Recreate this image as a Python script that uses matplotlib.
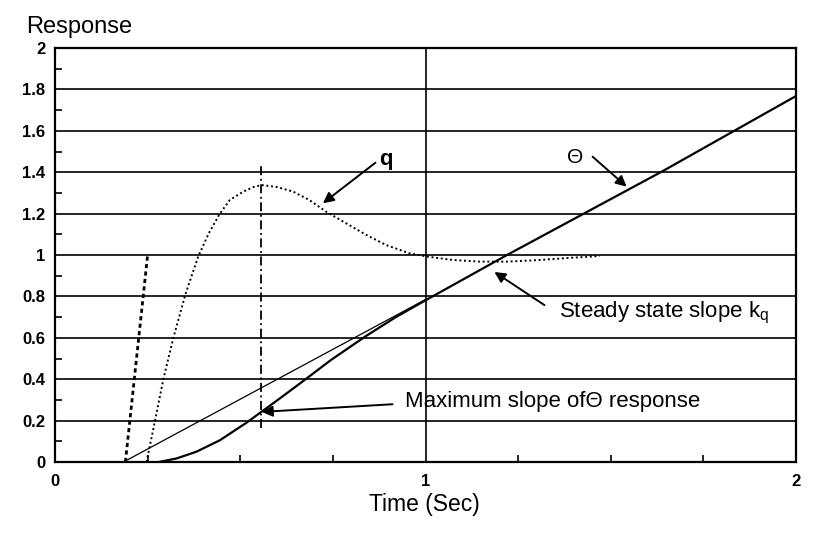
import matplotlib
matplotlib.use("Agg")
import matplotlib.pyplot as plt
from matplotlib.ticker import FixedLocator

plt.rcParams['font.family'] = ['Liberation Sans', 'DejaVu Sans']
plt.rcParams['mathtext.fontset'] = 'custom'
plt.rcParams['mathtext.rm'] = 'Liberation Sans'

# ---- data ----
step_t = [0.19, 0.25]
step_v = [0.0, 1.0]

q_t = [0.247, 0.27, 0.292, 0.319, 0.352, 0.386, 0.415, 0.445, 0.472, 0.508, 0.535, 0.557,
       0.60, 0.643, 0.687, 0.732, 0.786, 0.840, 0.894, 0.957, 1.006, 1.074, 1.146,
       1.22, 1.30, 1.38, 1.47]
q_v = [0.0, 0.20, 0.396, 0.597, 0.81, 0.99, 1.105, 1.20, 1.266, 1.306, 1.328, 1.338,
       1.328, 1.306, 1.265, 1.209, 1.153, 1.097, 1.048, 1.008, 0.992, 0.976, 0.968,
       0.968, 0.975, 0.985, 0.995]

theta_t = [0.28, 0.328, 0.382, 0.445, 0.517, 0.553, 0.606, 0.669, 0.745, 0.838, 0.920,
           1.0, 1.22, 1.64, 2.0]
theta_v = [0.0, 0.017, 0.05, 0.105, 0.19, 0.237, 0.306, 0.39, 0.493, 0.607, 0.70,
           0.781, 1.0, 1.405, 1.768]

tangent_t = [0.185, 1.0]
tangent_v = [0.0, 0.785]

peak_t = [0.557, 0.557]
peak_v = [0.165, 1.435]

xticks = [0, 1, 2]
xtick_labels = ['0', '1', '2']
yticks = [0, 0.2, 0.4, 0.6, 0.8, 1.0, 1.2, 1.4, 1.6, 1.8, 2.0]
ytick_labels = ['0', '0.2', '0.4', '0.6', '0.8', '1', '1.2', '1.4', '1.6', '1.8', '2']

fig = plt.figure(figsize=(8.31, 5.47), dpi=100)
ax = fig.add_axes([55/831, 1-462/547, (796-55)/831, (462-48)/547])
ax.set_xlim(0, 2)
ax.set_ylim(0, 2)

# grid
for y in yticks[1:]:
    ax.axhline(y, color='black', lw=1.2, zorder=1)
ax.axvline(1.0, color='black', lw=1.2, zorder=1)

# curves
ax.plot(step_t, step_v, color='black', lw=2.0, ls=(0, (1.5, 1.2)), zorder=3)
ax.plot(q_t, q_v, color='black', lw=1.4, ls=(0, (1, 1.4)), zorder=3)
ax.plot(theta_t, theta_v, color='black', lw=1.6, zorder=3)
ax.plot(tangent_t, tangent_v, color='black', lw=0.9, zorder=3)
ax.plot(peak_t, peak_v, color='black', lw=1.3, ls=(0, (5, 2, 1, 2)), zorder=3)

# ticks
ax.set_xticks(xticks)
ax.set_xticklabels(xtick_labels)
ax.set_yticks(yticks)
ax.set_yticklabels(ytick_labels)
ax.tick_params(axis='both', which='major', length=0, labelsize=12)
ax.tick_params(axis='x', which='major', pad=9)
ax.tick_params(axis='y', which='major', pad=7)
for lbl in ax.get_xticklabels() + ax.get_yticklabels():
    lbl.set_fontweight('bold')
ax.xaxis.set_minor_locator(FixedLocator([0.25, 0.5, 0.75, 1.25, 1.5, 1.75]))
ax.yaxis.set_minor_locator(FixedLocator([0.1, 0.3, 0.5, 0.7, 0.9, 1.1, 1.3, 1.5, 1.7, 1.9]))
ax.tick_params(which='minor', direction='in', length=5, width=1.2)
ax.tick_params(axis='y', which='minor', left=True, right=False)
ax.tick_params(axis='x', which='minor', bottom=True, top=False)

for s in ax.spines.values():
    s.set_linewidth(1.6)

# labels
fig.text(26/831, 1-33/547, 'Response', fontsize=17, ha='left', va='baseline')
fig.text(424/831, 1-511/547, 'Time (Sec)', fontsize=16.5, ha='center', va='baseline')

arrow = dict(arrowstyle='-|>', color='black', lw=1.4, mutation_scale=16, shrinkA=0, shrinkB=0)
ax.annotate('', xy=(0.723, 1.250), xytext=(0.865, 1.446), arrowprops=arrow)
ax.text(0.874, 1.461, 'q', fontsize=16, fontweight='bold', ha='left', va='center')

ax.annotate('', xy=(1.543, 1.330), xytext=(1.451, 1.475), arrowprops=arrow)
ax.text(1.404, 1.473, 'Θ', fontsize=15, ha='center', va='center')

ax.annotate('', xy=(1.186, 0.918), xytext=(1.321, 0.758), arrowprops=arrow)
ax.text(1.361, 0.70, r'Steady state slope k$_{\mathregular{q}}$', fontsize=16,
        ha='left', va='baseline')

ax.annotate('', xy=(0.558, 0.242), xytext=(0.911, 0.279), arrowprops=arrow)
ax.text(0.946, 0.29, 'Maximum slope ofΘ response', fontsize=16, ha='left', va='center')

fig.savefig('out.png', dpi=100)
